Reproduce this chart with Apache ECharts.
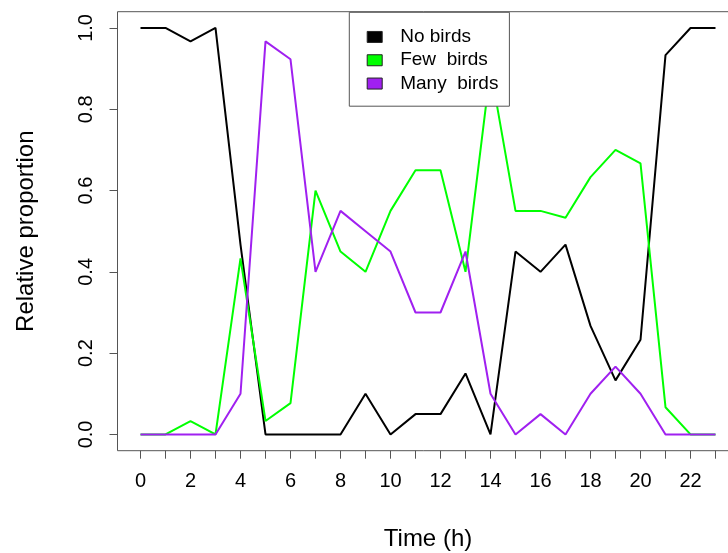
<!DOCTYPE html>
<html>
<head>
<meta charset="utf-8">
<script src="https://cdn.jsdelivr.net/npm/echarts@6/dist/echarts.min.js"></script>
<style>
html,body{margin:0;padding:0;background:#fff;}
#chart{width:728px;height:553px;}
</style>
</head>
<body>
<div id="chart"></div>
<script>
const hours = [0,1,2,3,4,5,6,7,8,9,10,11,12,13,14,15,16,17,18,19,20,21,22,23];
const xLabelTicks = [0,2,4,6,8,10,12,14,16,18,20,22];
const noBirds   = [1,1,0.967,1,0.467,0,0,0,0,0.1,0,0.05,0.05,0.15,0,0.45,0.4,0.467,0.267,0.133,0.233,0.933,1,1];
const fewBirds  = [0,0,0.033,0,0.433,0.033,0.077,0.6,0.45,0.4,0.55,0.65,0.65,0.4,0.9,0.55,0.55,0.533,0.633,0.7,0.667,0.067,0,0];
const manyBirds = [0,0,0,0,0.1,0.967,0.923,0.4,0.55,0.5,0.45,0.3,0.3,0.45,0.1,0,0.05,0,0.1,0.167,0.1,0,0,0];
const seriesNames = ['No birds','Few  birds','Many  birds'];
const seriesColors = ['#000000','#00FF00','#A020F0'];
const yTicks = [0,0.2,0.4,0.6,0.8,1.0];
const xTitle = 'Time (h)';
const yTitle = 'Relative proportion';

const FONT = 'Liberation Sans, Arial, sans-serif';
const chart = echarts.init(document.getElementById('chart'), null, {renderer:'canvas'});
const pairs = a => hours.map((h,i)=>[h,a[i]]);
const allSeries = [noBirds,fewBirds,manyBirds].map((arr,i)=>({
  name: seriesNames[i], type:'line',
  data: pairs(arr), symbol:'none', showSymbol:false,
  lineStyle:{color:seriesColors[i], width:2},
  itemStyle:{color:seriesColors[i]},
  z: 2+i, animation:false, clip:false
}));
// R-style 4% axis extension
const xPad = (hours[hours.length-1]-hours[0])*0.04;
const yPad = (yTicks[yTicks.length-1]-yTicks[0])*0.04;

chart.setOption({
  animation:false,
  backgroundColor:'#fff',
  textStyle:{fontFamily:FONT},
  grid:{left:117.5, top:11.7, width:621, height:439, show:true, borderColor:'#555', borderWidth:1,
        backgroundColor:'transparent', containLabel:false, outerBoundsMode:'none'},
  xAxis:{type:'value', min:hours[0]-xPad, max:hours[hours.length-1]+xPad,
     axisLine:{show:false, onZero:false}, splitLine:{show:false},
     axisTick:{show:true, length:8, customValues:hours, lineStyle:{color:'#555', width:1}},
     axisLabel:{fontSize:20, color:'#000', fontFamily:FONT, margin:21, customValues:xLabelTicks,
       formatter:v => String(Math.round(v))},
     name:xTitle, nameLocation:'middle', nameGap:77,
     nameTextStyle:{fontSize:24, color:'#000', fontFamily:FONT}},
  yAxis:{type:'value', min:yTicks[0]-yPad, max:yTicks[yTicks.length-1]+yPad,
     axisLine:{show:false, onZero:false}, splitLine:{show:false},
     axisTick:{show:true, length:8, customValues:yTicks, lineStyle:{color:'#555', width:1}},
     axisLabel:{fontSize:20, color:'#000', fontFamily:FONT, rotate:90, margin:21, customValues:yTicks,
       formatter:v => v.toFixed(1)},
     name:yTitle, nameLocation:'middle', nameGap:79,
     nameTextStyle:{fontSize:24, color:'#000', fontFamily:FONT}},
  legend:{
    data:seriesNames, orient:'vertical', left:349.3, top:12.3,
    padding:[13,11,11,17.4], itemWidth:15, itemHeight:11, itemGap:0,
    icon:'rect', backgroundColor:'#fff', borderColor:'#555', borderWidth:1,
    itemStyle:{borderColor:'#222', borderWidth:1},
    textStyle:{fontSize:19, color:'#000', fontFamily:FONT, lineHeight:23.3, padding:[0,0,0,13]},
    selectedMode:false
  },
  series: allSeries
});
</script>
</body>
</html>
